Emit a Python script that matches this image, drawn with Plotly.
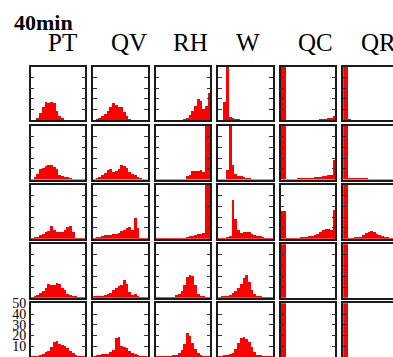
import plotly.graph_objects as go

TITLE = "40min"
VARS = ["PT", "QV", "RH", "W", "QC", "QR"]
Y_TICKS = [0, 10, 20, 30, 40, 50]
N_BINS = 20

# histogram counts per panel: each variable holds 5 rows (top to bottom), 20 bins each
PT = [
    [0.3, 0.5, 2, 7, 13, 17, 16, 17, 16, 9, 4, 2, 0.5, 0.3, 0.3, 0.3, 0.3, 0.3, 0.3, 0.3],
    [0.5, 2, 5, 10, 11, 13, 14, 14, 12, 10, 4, 3, 2, 2, 1, 0.5, 0.3, 0.3, 0.3, 0.3],
    [0.3, 1, 1.5, 3, 4, 6, 7, 12, 8, 6, 6, 6, 8, 11, 12, 6, 0.5, 0.3, 0.3, 0.3],
    [0.3, 1, 2, 4, 6, 9, 13, 12, 12, 14, 13, 9, 7, 3, 2, 1, 1, 0.5, 0.3, 0.3],
    [0.3, 0.5, 0.5, 1, 2, 4, 5, 9, 14, 15, 12, 11, 10, 8, 5, 3, 1, 0.5, 0.3, 0.3],
]
QV = [
    [0.3, 1, 2, 4, 6, 9, 13, 16, 15, 13, 13, 8, 4, 1.5, 0.5, 0.3, 0.3, 0.3, 0.3, 0.3],
    [0.3, 1, 2, 4, 6, 9, 10, 7, 8, 10, 14, 13, 11, 7, 5, 4, 2, 1, 0.5, 0.5],
    [0.5, 1, 1, 2, 3, 3, 3, 4, 4, 5, 7, 8, 10, 11, 8, 19, 10, 0.5, 0.3, 0.3],
    [1, 1, 1, 1, 2, 3, 4, 7, 9, 11, 12, 16, 13, 5, 2, 3, 1, 0.5, 0.3, 0.3],
    [0.5, 1.5, 1.5, 2, 2, 2.5, 4, 6, 17, 18, 10, 9, 8, 5, 3, 2, 1, 0.5, 0.3, 0.3],
]
RH = [
    [0.3, 0.3, 0.3, 0.3, 0.3, 0.3, 0.3, 0.3, 0.3, 0.3, 1, 2, 5, 9, 14, 20, 18, 11, 14, 26],
    [0.3, 0.3, 0.3, 0.3, 0.3, 0.3, 0.3, 0.3, 0.3, 0.3, 0.5, 3, 4, 8, 8, 8, 9, 7, 50, 50],
    [0.3, 0.3, 0.3, 0.3, 0.3, 0.3, 0.3, 0.3, 0.3, 0.3, 0.3, 1, 2, 2, 3, 4, 4, 5, 50, 50],
    [0.3, 0.3, 0.3, 0.3, 0.3, 0.3, 0.5, 2, 3, 6, 12, 19, 21, 20, 12, 3, 1.5, 1, 0.5, 0.3],
    [0.3, 0.3, 0.3, 0.3, 0.3, 0.3, 1, 1.5, 3, 6, 12, 22, 19, 13, 7, 3, 1, 0.5, 0.3, 0.3],
]
W = [
    [0.3, 0.3, 17, 50, 3, 2, 1, 1, 0.5, 0.3, 0.3, 0.3, 0.3, 0.3, 0.3, 0.3, 0.3, 0.3, 0.3, 0.3],
    [0.3, 0.3, 0.5, 9, 50, 14, 5, 3, 3, 2, 1.5, 1, 0.5, 0.3, 0.3, 0.3, 0.3, 0.3, 0.3, 0.3],
    [0.3, 0.5, 0.5, 1, 2, 36, 18, 8, 5, 6, 6.5, 6, 4, 3, 2, 2, 1, 0.5, 0.5, 0.3],
    [0.3, 1, 1, 1, 2, 4, 6, 9, 13, 18, 21, 15, 7, 3, 1.5, 1, 0.5, 0.5, 0.3, 0.3],
    [0.3, 0.5, 1, 1.5, 2, 3, 7, 13, 17, 18, 16, 14, 9, 4, 1.5, 1, 0.5, 0.3, 0.3, 0.3],
]
QC = [
    [50, 50, 0.3, 0.3, 0.3, 0.3, 0.3, 0.3, 0.3, 0.3, 0.3, 0.3, 0.3, 0.5, 1, 1, 1.5, 2, 2, 4],
    [50, 50, 0.5, 0.5, 0.5, 0.5, 1, 1, 1, 1, 1.5, 1.5, 2, 2, 2.5, 3, 3, 4, 4, 18],
    [26, 26, 0.3, 0.3, 0.5, 0.5, 0.5, 1, 1, 1.5, 2, 2, 3, 4, 6, 8, 9, 9, 8, 27],
    [50, 50, 0, 0, 0, 0, 0, 0, 0, 0, 0, 0, 0, 0, 0, 0, 0, 0, 0, 0],
    [50, 50, 0, 0, 0, 0, 0, 0, 0, 0, 0, 0, 0, 0, 0, 0, 0, 0, 0, 0],
]
QR = [
    [50, 50, 1, 0.3, 0.3, 0.3, 0.3, 0.3, 0.3, 0.3, 0.3, 0.3, 0.3, 0.3, 0.3, 0.3, 0.3, 0.3, 0.3, 0.3],
    [50, 50, 1, 1, 1, 1, 1, 1, 1, 0.5, 0.5, 0.5, 0.3, 0.3, 0.3, 0.3, 0.3, 0.3, 0.3, 0.3],
    [50, 50, 0.5, 0.5, 1, 1, 1.5, 3, 5, 6, 7, 6, 4, 3, 2, 1.5, 1, 0.5, 0.3, 0.3],
    [50, 50, 0, 0, 0, 0, 0, 0, 0, 0, 0, 0, 0, 0, 0, 0, 0, 0, 0, 0],
    [50, 50, 0, 0, 0, 0, 0, 0, 0, 0, 0, 0, 0, 0, 0, 0, 0, 0, 0, 0],
]
DATA = [PT, QV, RH, W, QC, QR]

# ---- layout geometry (pixels); the grid runs past the right and bottom edges ----
FIG_W, FIG_H = 393, 357
COL_X0, COL_STEP, PANEL_W = 30.7, 62.5, 54.6
ROW_Y0, ROW_STEP, PANEL_H = 61.0, 60.3, 54.7
SERIF = "Liberation Serif, Times New Roman, serif"
LINE_C, LINE_W = "#1a1a1a", 1.5

fig = go.Figure()
layout = {}
k = 0
for c, var_rows in enumerate(DATA):
    n_rows = len(var_rows)
    for r, vals in enumerate(var_rows):
        k += 1
        xs = [i + 0.5 for i in range(len(vals))]
        xa = "x" if k == 1 else f"x{k}"
        ya = "y" if k == 1 else f"y{k}"
        fig.add_trace(go.Bar(
            x=xs, y=vals, xaxis=xa, yaxis=ya, width=1,
            marker=dict(color="#ff0000", line=dict(width=0)),
            showlegend=False, hoverinfo="skip",
        ))
        x0 = COL_X0 + c * COL_STEP
        x1 = min(x0 + PANEL_W, FIG_W)
        y0 = ROW_Y0 + r * ROW_STEP
        y1 = min(y0 + PANEL_H, FIG_H)
        cut_right = (x0 + PANEL_W) > FIG_W
        x_max = N_BINS * (x1 - x0) / PANEL_W
        xd = [x0 / FIG_W, x1 / FIG_W]
        yd = [max(0.0, 1 - y1 / FIG_H), 1 - y0 / FIG_H]
        last_row = (r == n_rows - 1)
        show_lab = (c == 0 and last_row)
        layout["xaxis" if k == 1 else f"xaxis{k}"] = dict(
            domain=xd, anchor=ya, range=[0, x_max], showgrid=False, zeroline=False,
            showticklabels=False, ticks="", showline=True, linecolor=LINE_C,
            linewidth=LINE_W, mirror=not last_row, side="top" if last_row else "bottom",
            fixedrange=True,
        )
        layout["yaxis" if k == 1 else f"yaxis{k}"] = dict(
            domain=yd, anchor=xa, range=[0, 50], tickvals=Y_TICKS,
            ticktext=[str(v) for v in Y_TICKS],
            ticks="inside", ticklen=4, tickwidth=1.4, tickcolor="#333",
            showgrid=False, zeroline=False, showline=True, linecolor=LINE_C,
            linewidth=LINE_W, mirror=False if cut_right else "allticks",
            showticklabels=show_lab,
            tickfont=dict(family=SERIF, size=14, color="black"), fixedrange=True,
        )

annotations = [dict(
    text=TITLE, x=12 / FIG_W, y=1 - 1 / FIG_H, xref="paper", yref="paper",
    xanchor="left", yanchor="top", showarrow=False,
    font=dict(family=SERIF, size=22, color="black", weight="bold"),
)]
for c, name in enumerate(VARS):
    annotations.append(dict(
        text=name, x=(COL_X0 + c * COL_STEP + 15.5) / FIG_W, y=1 - 20.5 / FIG_H,
        xref="paper", yref="paper", xanchor="left", yanchor="top", showarrow=False,
        font=dict(family=SERIF, size=25, color="black"),
    ))

fig.update_layout(
    width=FIG_W, height=FIG_H, margin=dict(l=0, r=0, t=0, b=0),
    paper_bgcolor="white", plot_bgcolor="white", bargap=0,
    annotations=annotations, **layout,
)

fig.write_html(
    "out.html",
    config={"displayModeBar": False},
    post_script="document.body.style.margin='0';document.body.style.overflow='hidden';document.documentElement.style.overflow='hidden';",
)
